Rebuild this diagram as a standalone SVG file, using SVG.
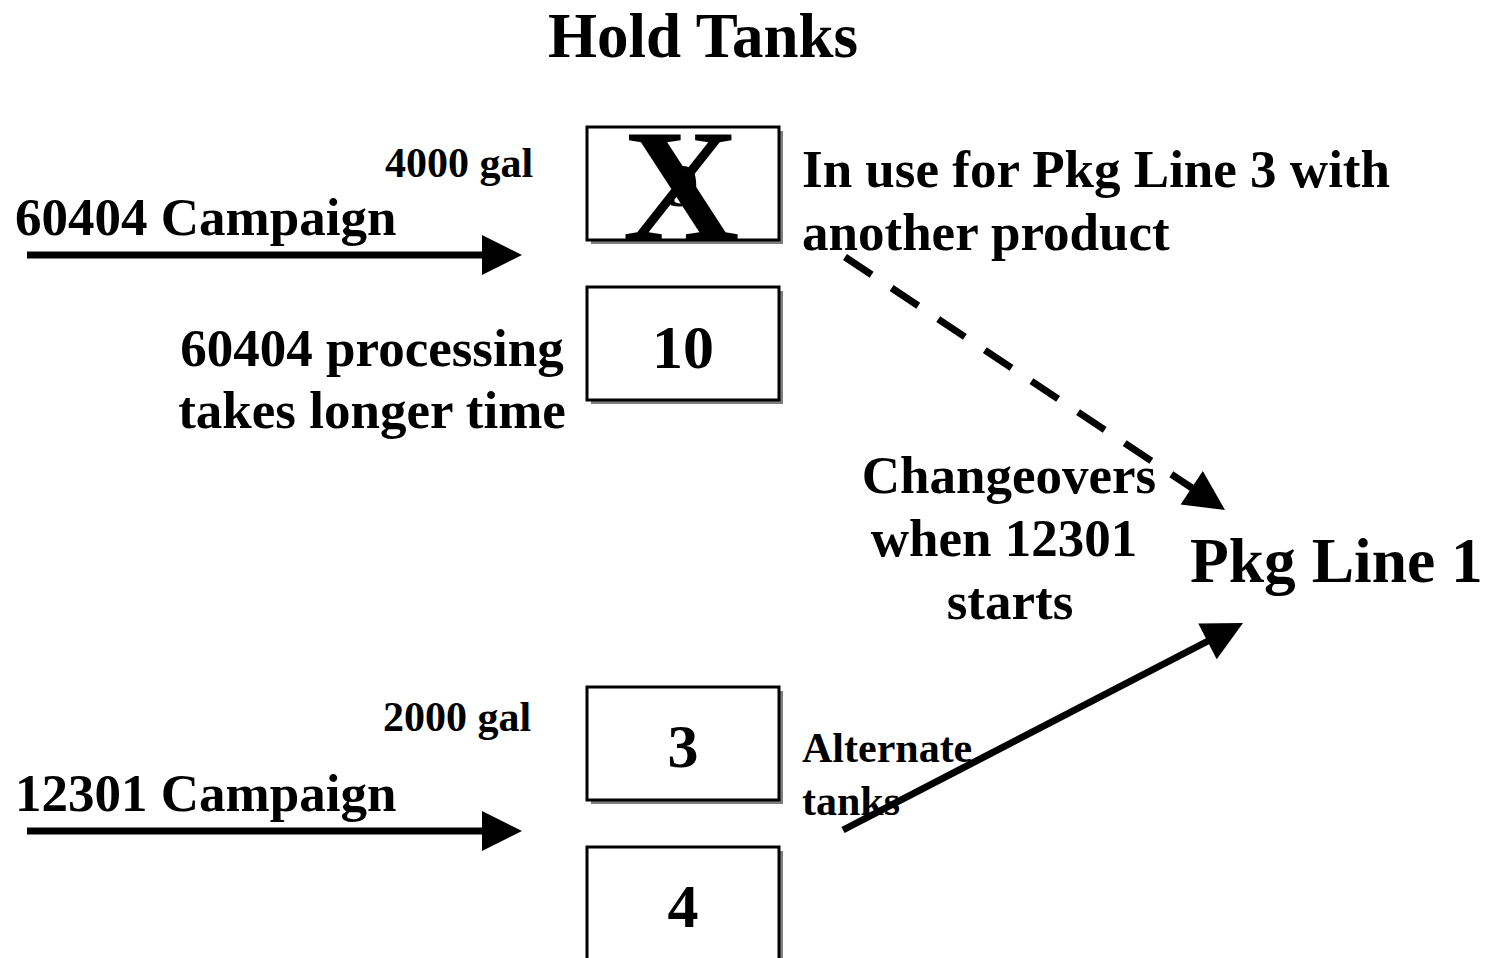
<svg xmlns="http://www.w3.org/2000/svg" width="1491" height="958" viewBox="0 0 1491 958">
<style>
text{font-family:"Liberation Serif","Times New Roman",serif;font-weight:bold;fill:#000}
.t53{font-size:53px}
.t62{font-size:62px}
.t42{font-size:42px}
.box{fill:#fff;stroke:#000;stroke-width:3}
.shadow{fill:#808080}
.ln{stroke:#000;stroke-width:7;fill:none}
</style>
<rect width="1491" height="958" fill="#fff"/>
<text id="title" x="703" y="57" text-anchor="middle" style="font-size:63px">Hold Tanks</text>
<g id="tank9">
<rect class="shadow" x="591" y="131" width="192" height="113"/>
<rect class="box" x="587" y="127" width="192" height="113"/>
<text x="683" y="206" text-anchor="middle" class="t62">9</text>
<text x="681" y="240" text-anchor="middle" style="font-size:162px">X</text>
</g>
<g id="tank10">
<rect class="shadow" x="591" y="291" width="192" height="113"/>
<rect class="box" x="587" y="287" width="192" height="113"/>
<text x="683" y="368" text-anchor="middle" class="t62">10</text>
</g>
<g id="tank3">
<rect class="shadow" x="591" y="691" width="192" height="113"/>
<rect class="box" x="587" y="687" width="192" height="113"/>
<text x="683" y="767" text-anchor="middle" class="t62">3</text>
</g>
<g id="tank4">
<rect class="shadow" x="591" y="851" width="192" height="113"/>
<rect class="box" x="587" y="847" width="192" height="113"/>
<text x="683" y="927" text-anchor="middle" class="t62">4</text>
</g>
<g id="labels">
<text x="385" y="177" class="t42">4000 gal</text>
<text x="15" y="235" class="t53">60404 Campaign</text>
<text x="372" y="366" text-anchor="middle" class="t53">60404 processing</text>
<text x="372" y="428" text-anchor="middle" class="t53">takes longer time</text>
<text x="802" y="187" class="t53">In use for Pkg Line 3 with</text>
<text x="802" y="250" class="t53">another product</text>
<text x="1009" y="493" text-anchor="middle" class="t53">Changeovers</text>
<text x="1004" y="556" text-anchor="middle" class="t53">when 12301</text>
<text x="1010" y="619" text-anchor="middle" class="t53">starts</text>
<text x="1190" y="582" style="font-size:63.5px">Pkg Line 1</text>
<text x="383" y="731" class="t42">2000 gal</text>
<text x="15" y="811" class="t53">12301 Campaign</text>
<text x="802" y="762" class="t42">Alternate</text>
<text x="802" y="815" class="t42">tanks</text>
</g>
<g id="connectors">
<line class="ln" x1="27" y1="255" x2="484" y2="255"/>
<polygon points="482,235 522,255 482,275"/>
<line class="ln" x1="27" y1="831" x2="484" y2="831"/>
<polygon points="482,811 522,831 482,851"/>
<line class="ln" x1="845" y1="257" x2="1192" y2="488" stroke-dasharray="32 24"/>
<polygon points="1225,510 1180.6,504.5 1202.8,471.1"/>
<line class="ln" x1="843" y1="830" x2="1208" y2="641"/>
<polygon points="1243,623 1198.3,623.6 1216.7,659.2"/>
</g>
</svg>
